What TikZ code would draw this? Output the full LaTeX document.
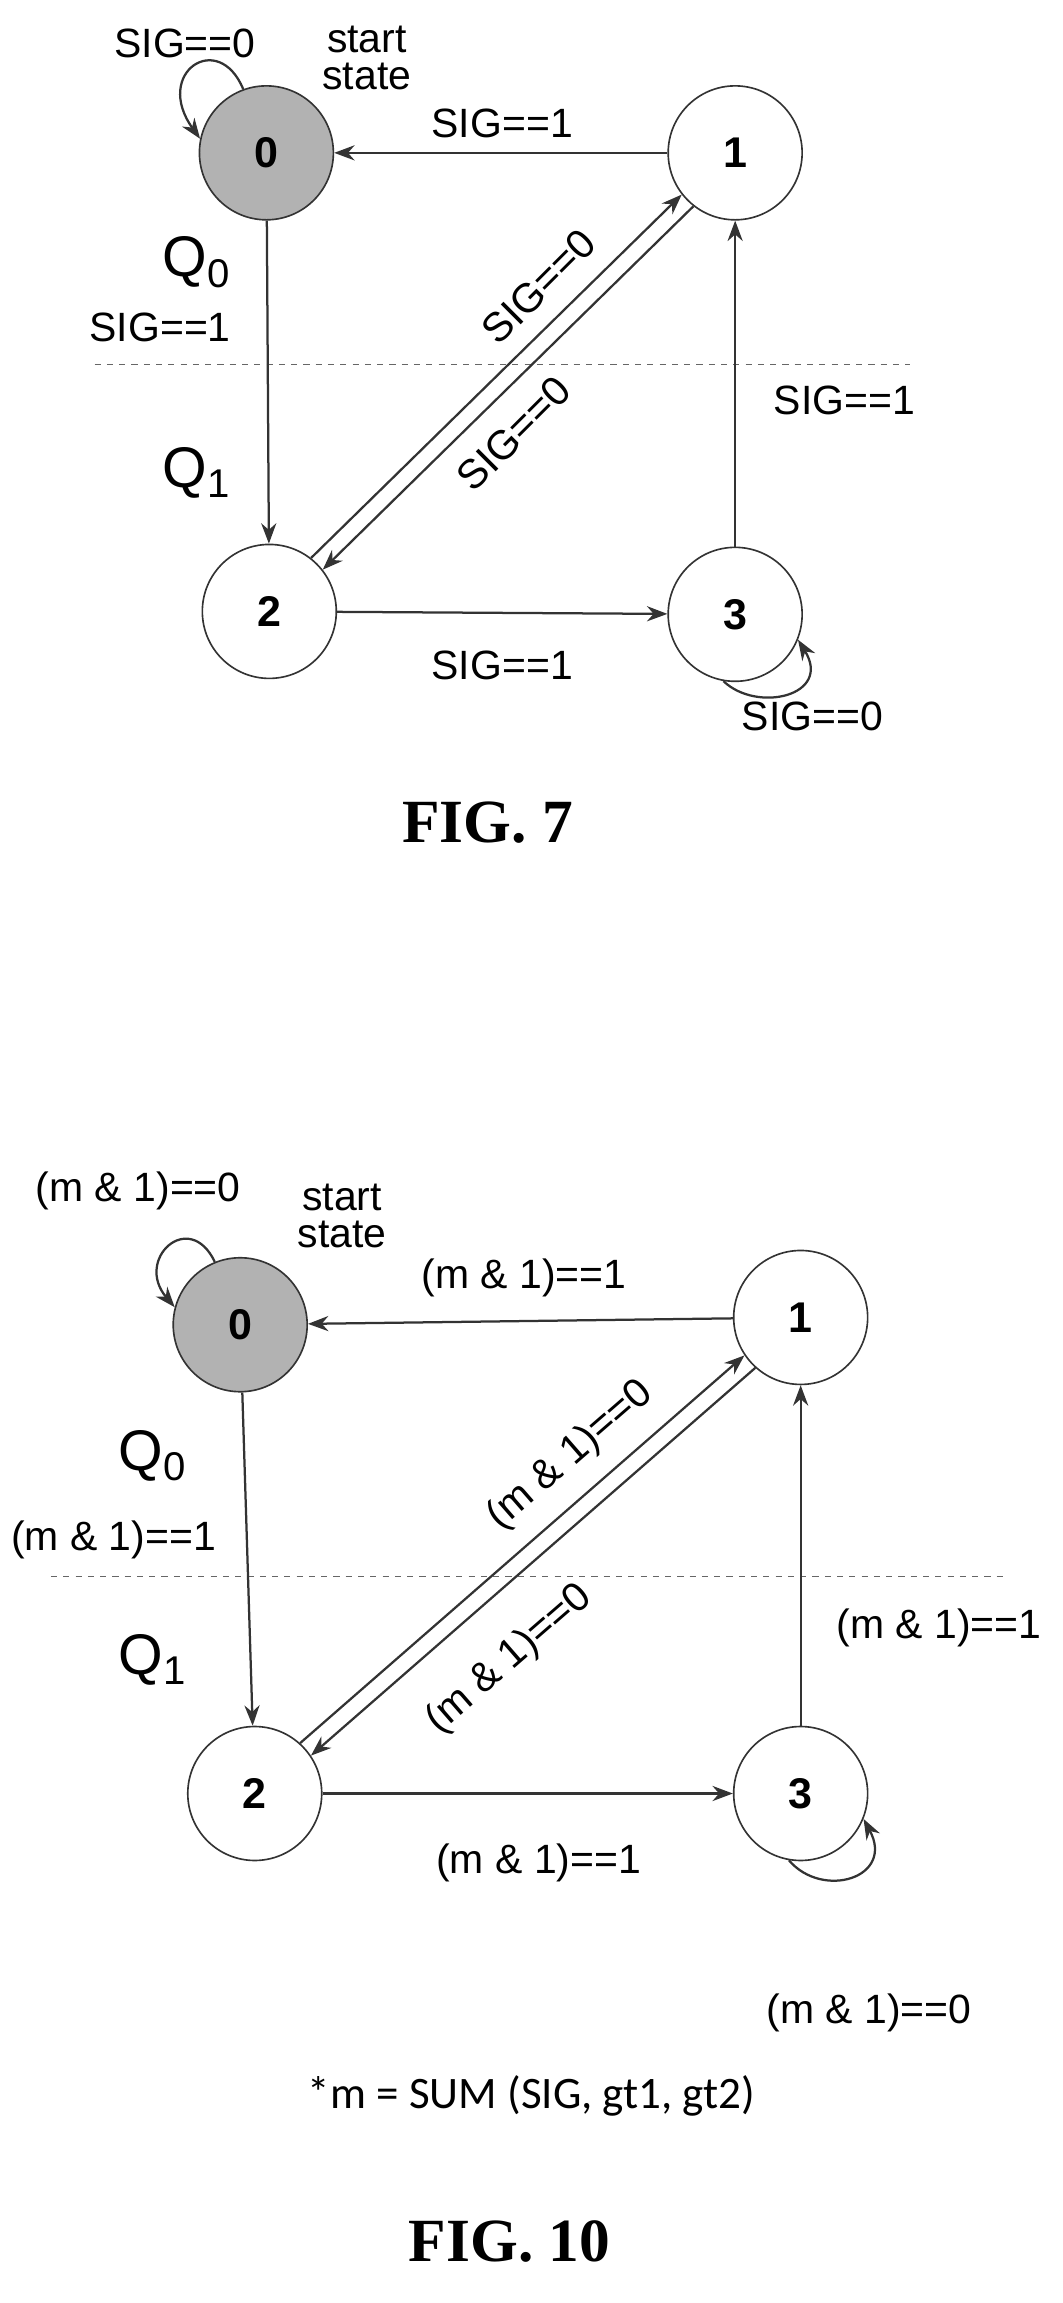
\documentclass[tikz,border=0pt]{standalone}
\usepackage{fontspec}
\setmainfont{Liberation Sans}
\newfontfamily\figfont{Liberation Serif}
\newfontfamily\notefont{Carlito}
\usetikzlibrary{positioning,arrows.meta}
\begin{document}
\begin{tikzpicture}[x=0.025cm,y=-0.025cm,
				state/.style={circle, draw=black!80, thick, minimum size=2.3cm, font=\fontsize{21}{24}\selectfont\bfseries},
				start/.style={state, fill=black!30},
				lbl/.style={font=\fontsize{20}{24}\selectfont, inner sep=1pt},
				qlbl/.style={font=\fontsize{28}{30}\selectfont},
				figcap/.style={font=\fontsize{30}{32}\selectfont\figfont\bfseries},
				edge/.style={draw=black!80, line width=1.1pt, -{Stealth[length=3.5mm,width=2.6mm]}}
			]
			\useasboundingbox (0,0) rectangle (730,1582);
			% FIG. 7
			\node[start] (s0) at (183,105) {0};
			\node[state] (s1) at (505,105) {1};
			\node[state] (s2) at (185,420) {2};
			\node[state] (s3) at (505,422) {3};
			\draw[black!60, dashed] (65,250) -- (625,250);
			\node[lbl] (l0) at (127,30) {SIG==0};
			\node[lbl, align=center, font=\fontsize{20}{18}\selectfont] (st0) at (252,40) {start\\state};
			\node[lbl] (t10) at (345,85) {SIG==1};
			\node[qlbl] (q0) at (135,180) {Q\textsubscript{0}};
			\node[lbl] (t02) at (110,225) {SIG==1};
			\node[qlbl] (q1) at (135,325) {Q\textsubscript{1}};
			\node[lbl] (t31) at (580,275) {SIG==1};
			\node[lbl] (t23) at (345,457) {SIG==1};
			\node[lbl] (l3) at (558,492) {SIG==0};
			\node[lbl, rotate=45] (t21) at (370,197) {SIG==0};
			\node[lbl, rotate=45] (t12) at (353,298) {SIG==0};
			\begin{scope}[edge]
			\draw (s1) -- (s0);
			\draw (s0) -- (s2);
			\draw (s2) -- (s3);
			\draw (s3) -- (s1);
			\draw (s2.52) -- (s1.218);
			\draw (s1.232) -- (s2.38);
			\draw (s0.110) .. controls (150,20) and (105,50) .. (s0.168);
			\draw (s3.-100) .. controls (520,490) and (572,478) .. (s3.-22);
			\end{scope}
			\node[figcap] (f7) at (335,565) {FIG. 7};
			% FIG. 10
			\node[start] (u0) at (165,910) {0};
			\node[state] (u1) at (550,905) {1};
			\node[state] (u2) at (175,1232) {2};
			\node[state] (u3) at (550,1232) {3};
			\draw[black!60, dashed] (35,1083) -- (690,1083);
			\node[lbl] (m0) at (95,818) {(m \& 1)==0};
			\node[lbl, align=center, font=\fontsize{20}{18}\selectfont] (st1) at (235,835) {start\\state};
			\node[lbl] (v10) at (360,878) {(m \& 1)==1};
			\node[qlbl] (r0) at (105,1000) {Q\textsubscript{0}};
			\node[lbl] (v02) at (78,1058) {(m \& 1)==1};
			\node[qlbl] (r1) at (105,1140) {Q\textsubscript{1}};
			\node[lbl] (v31) at (645,1118) {(m \& 1)==1};
			\node[lbl] (v23) at (370,1280) {(m \& 1)==1};
			\node[lbl] (m3) at (597,1383) {(m \& 1)==0};
			\node[lbl, rotate=41] (v21) at (392,1000) {(m \& 1)==0};
			\node[lbl, rotate=41] (v12) at (350,1140) {(m \& 1)==0};
			\begin{scope}[edge]
			\draw (u1) -- (u0);
			\draw (u0) -- (u2);
			\draw (u2) -- (u3);
			\draw (u3) -- (u1);
			\draw (u2.48) -- (u1.214);
			\draw (u1.228) -- (u2.34);
			\draw (u0.112) .. controls (130,830) and (92,865) .. (u0.165);
			\draw (u3.-100) .. controls (565,1305) and (615,1290) .. (u3.-22);
			\end{scope}
			\node[lbl, font=\fontsize{22}{24}\selectfont\notefont] (note) at (365,1440) {*m = SUM (SIG, gt1, gt2)};
			\node[figcap] (f10) at (350,1540) {FIG. 10};
			\end{tikzpicture}
\end{document}
